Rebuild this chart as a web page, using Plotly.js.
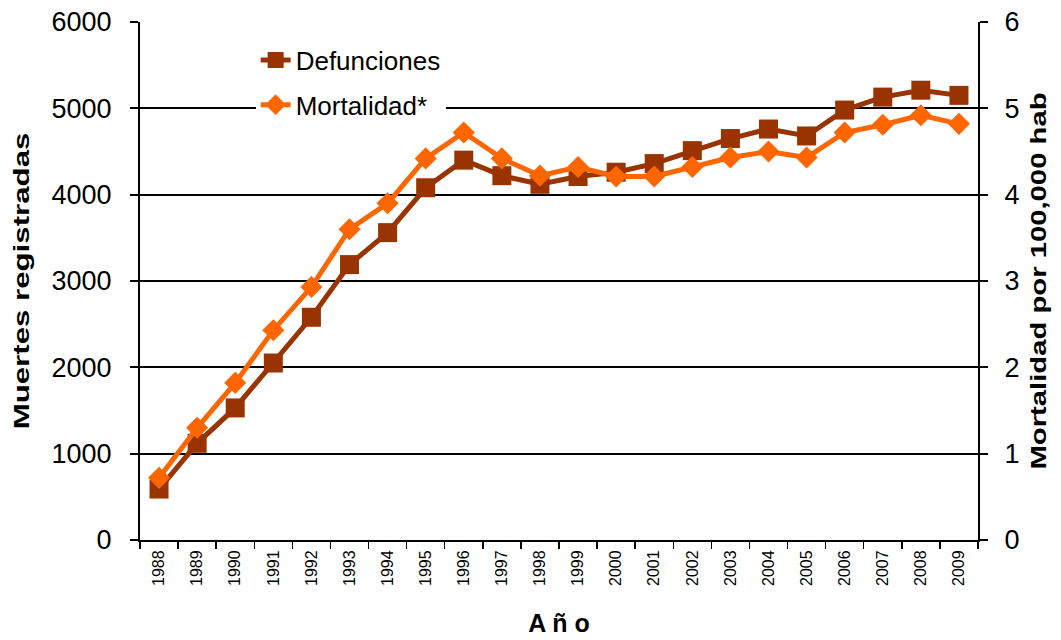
<!DOCTYPE html>
<html>
<head>
<meta charset="utf-8">
<script src="https://cdn.plot.ly/plotly-3.0.1.min.js"></script>
<style>html,body{margin:0;padding:0;background:#fff;}#chart{width:1061px;height:640px;}</style>
</head>
<body>
<div id="chart"></div>
<script>
const years = ["1988","1989","1990","1991","1992","1993","1994","1995","1996","1997","1998","1999","2000","2001","2002","2003","2004","2005","2006","2007","2008","2009"];
const defunciones = [590,1120,1530,2050,2580,3190,3560,4080,4400,4220,4120,4210,4260,4360,4510,4650,4760,4680,4980,5130,5210,5150];
const mortalidad = [0.72,1.3,1.82,2.43,2.93,3.6,3.9,4.42,4.72,4.42,4.22,4.32,4.21,4.21,4.32,4.43,4.5,4.43,4.72,4.81,4.92,4.82];
const yLeftTicks = [0,1000,2000,3000,4000,5000,6000];
const yRightTicks = [0,1,2,3,4,5,6];

const font = "Liberation Sans, Arial, sans-serif";
const traces = [
  {x: years, y: defunciones, name: "Defunciones", type: "scatter", mode: "lines+markers",
   line: {color: "#993300", width: 5}, marker: {symbol: "square", size: 19, color: "#993300"},
   yaxis: "y", legendgroup: "a"},
  {x: years, y: mortalidad, name: "Mortalidad*", type: "scatter", mode: "lines+markers",
   line: {color: "#FF6600", width: 5}, marker: {symbol: "diamond", size: 17, color: "#FF6600"},
   yaxis: "y2", legendgroup: "b"}
];
const catRange = [-0.5, years.length - 0.5];
const layout = {
  width: 1061, height: 640,
  margin: {l: 140, r: 83, t: 22, b: 100},
  paper_bgcolor: "#fff", plot_bgcolor: "#fff",
  font: {family: font, color: "#000"},
  showlegend: true,
  legend: {x: 0.138, y: 0.972, xanchor: "left", yanchor: "top", bgcolor: "#fff",
           font: {size: 26, family: font}, traceorder: "grouped", tracegroupgap: 8},
  xaxis: {type: "category", range: catRange, tickson: "boundaries", showgrid: false, showline: true,
          linecolor: "#000", linewidth: 2, ticks: "outside", ticklen: 7, tickcolor: "#000", tickwidth: 1.5,
          tickangle: -90, tickfont: {size: 16}, ticklabelstandoff: 2,
          title: {text: "A ñ o", font: {size: 25, family: font, weight: "bold"}, standoff: 30}},
  xaxis2: {type: "category", range: catRange, overlaying: "x", anchor: "y", side: "bottom",
           tickson: "boundaries", showgrid: false, showline: false, ticks: "inside", ticklen: 7,
           tickcolor: "#000", tickwidth: 1.5, showticklabels: false, tickvals: years},
  yaxis: {range: [0, 6000], tickvals: yLeftTicks, showgrid: true, gridcolor: "#000", gridwidth: 2,
          showline: true, linecolor: "#000", linewidth: 2, ticks: "outside", ticklen: 8, tickcolor: "#000",
          tickwidth: 2, tickfont: {size: 27}, ticklabelstandoff: 13, zeroline: false,
          title: {text: "Muertes registradas", font: {size: 22, family: font, weight: "bold"}, standoff: 16}},
  yaxis2: {range: [0, 6], tickvals: yRightTicks, overlaying: "y", side: "right", showgrid: false,
           showline: true, linecolor: "#000", linewidth: 2, ticks: "outside", ticklen: 8, tickcolor: "#000",
           tickwidth: 2, tickfont: {size: 27}, ticklabelstandoff: 11, zeroline: false,
           title: {text: "Mortalidad por 100,000 hab", font: {size: 22, family: font, weight: "bold"}, standoff: 12}}
};
function stretch(sel, s) {
  const t = document.querySelector(sel);
  if (!t) return;
  const x = +t.getAttribute("x"), y = +t.getAttribute("y");
  const tr = t.getAttribute("transform") || "";
  t.setAttribute("transform", tr + " translate(" + x + "," + y + ") scale(" + s + ",1) translate(" + (-x) + "," + (-y) + ")");
}
Plotly.newPlot("chart", traces, layout, {displayModeBar: false, staticPlot: true}).then(function () {
  stretch(".g-ytitle text", 1.42);
  stretch(".g-y2title text", 1.33);
});
</script>
</body>
</html>
